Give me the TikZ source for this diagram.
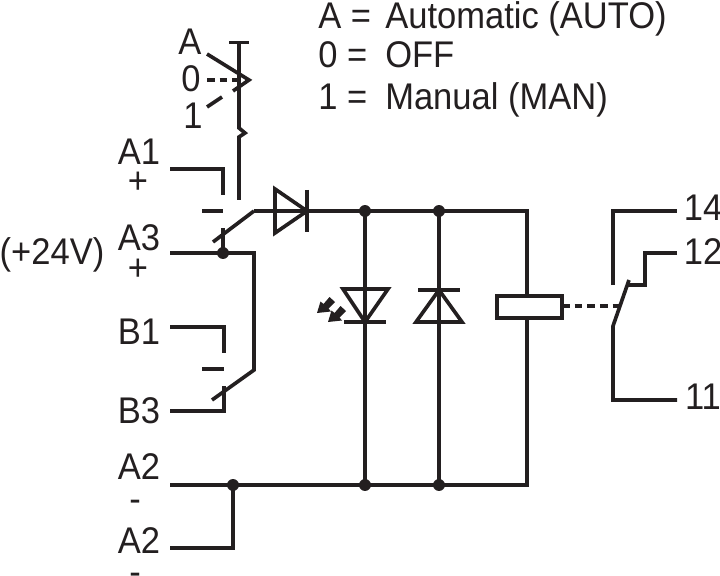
\documentclass[tikz,border=0pt]{standalone}
\usepackage{fontspec}
\setmainfont[FakeStretch=0.93]{Liberation Sans}
\usetikzlibrary{calc,arrows.meta}
\definecolor{ink}{HTML}{231F20}
\tikzset{
  wire/.style={draw=ink, line width=2.6pt, line join=miter},
  dashwire/.style={draw=ink, line width=2.6pt, dash pattern=on 5.5pt off 3.5pt},
  glow/.style={fill=ink, draw=none},
  dot/.style={circle, fill=ink, inner sep=0pt, minimum size=8.5pt},
  lab/.style={text=ink, font=\fontsize{26.4}{30}\selectfont, inner sep=0pt},
  leg/.style={lab, anchor=base west},
}
\begin{document}
\begin{tikzpicture}[x=0.025cm, y=-0.025cm]
  \useasboundingbox (0,0) rectangle (720,576);
  % terminals
  \node[lab] (a1) at (139,152) {A1};
  \node[lab] (a1p) at (138,183) {+};
  \node[lab] (a3) at (139,238) {A3};
  \node[lab] (a3p) at (138,270) {+};
  \node[lab] (v24) at (52,255) {(+24V)};
  \node[lab] (b1) at (139,332) {B1};
  \node[lab] (b3) at (139,411) {B3};
  \node[lab] (a2) at (139,467) {A2};
  \node[lab] (a2m) at (135,506) {-};
  \node[lab] (a2b) at (139,541) {A2};
  \node[lab] (a2bm) at (135,579) {-};
  \node[lab] (t14) at (703,208) {14};
  \node[lab] (t12) at (703,252) {12};
  \node[lab] (t11) at (703,397) {11};
  % legend
  \node[leg] (ka) at (318,29) {A =};
  \node[leg] (kz) at (318,68) {0 =};
  \node[leg] (kb) at (318,110) {1 =};
  \node[leg] (ta) at (385,29) {Automatic (AUTO)};
  \node[leg] (tz) at (385,68) {OFF};
  \node[leg] (tb) at (385,110) {Manual (MAN)};
  % selector
  \node[lab] (sa) at (190,42) {A};
  \node[lab] (sz) at (191,79) {0};
  \node[lab] (sb) at (193,116) {1};
  \draw[wire] (229,42.5)--(249,42.5);
  \draw[wire] (239,42)--(239,128)--(245,133)--(239,137)--(239,200);
  \draw[wire] (207,54)--(249,80)--(233,91);
  \draw[dashwire] (207,80)--(245,80);
  \draw[wire] (207,107)--(222,97);
  % input contacts
  \coordinate (j3) at (223,253);
  \coordinate (s3) at (254,211);
  \coordinate (s4) at (254,370);
  \draw[wire] (170,169)--(223,169)--(223,195);
  \draw[wire] (202,211)--(223,211);
  \draw[wire] (170,253)--(j3)--(223,228);
  \draw[wire] (j3)--(254,253)--(s4)--(212,400);
  \draw[wire] (213,242)--(s3);
  \draw[wire] (170,327)--(224,327)--(224,353);
  \draw[wire] (202,369)--(224,369);
  \draw[wire] (170,411)--(224,411)--(224,386);
  % main rails
  \coordinate (ra) at (365,211);
  \coordinate (rb) at (439,211);
  \coordinate (rc) at (527,211);
  \coordinate (bz) at (233,485);
  \coordinate (ba) at (365,485);
  \coordinate (bb) at (439,485);
  \coordinate (bc) at (527,485);
  \draw[wire] (s3)--(ra)--(rb)--(rc)--(527,296);
  \draw[wire] (527,318)--(bc)--(170,485);
  \draw[wire] (170,548)--(233,548)--(bz);
  \draw[wire] (ra)--(ba);
  \draw[wire] (rb)--(bb);
  % series diode
  \draw[wire] (275,189)--(275,233)--(307,211)--cycle;
  \draw[wire] (307,190)--(307,232);
  % led
  \draw[wire] (343,289)--(388,289)--(365,322)--cycle;
  \draw[wire] (344,322)--(386,322);
  \foreach \s in {(0,0),(11,9)}
    \fill[glow, shift={\s}] (317,313)--(320.5,301.5)--(323.5,304)--(329.5,297)--(335,302)--(328.5,308.5)--(331,311.5)--cycle;
  % free wheel diode
  \draw[wire] (418,290)--(460,290);
  \draw[wire] (439,290)--(462,322)--(416,322)--cycle;
  % coil
  \draw[wire] (497,296) rectangle (562,318);
  \draw[dashwire] (562,306)--(620,306);
  % output contacts
  \coordinate (pv) at (613,326);
  \draw[wire] (613,285)--(613,211)--(677,211);
  \draw[wire] (677,253)--(645,253)--(645,285)--(627,285);
  \draw[wire] (629,280)--(pv)--(613,400)--(677,400);
  % junctions
  \node[dot] (n1) at (j3) {};
  \node[dot] (n2) at (ra) {};
  \node[dot] (n3) at (rb) {};
  \node[dot] (n4) at (bz) {};
  \node[dot] (n5) at (ba) {};
  \node[dot] (n6) at (bb) {};
\end{tikzpicture}
\end{document}
